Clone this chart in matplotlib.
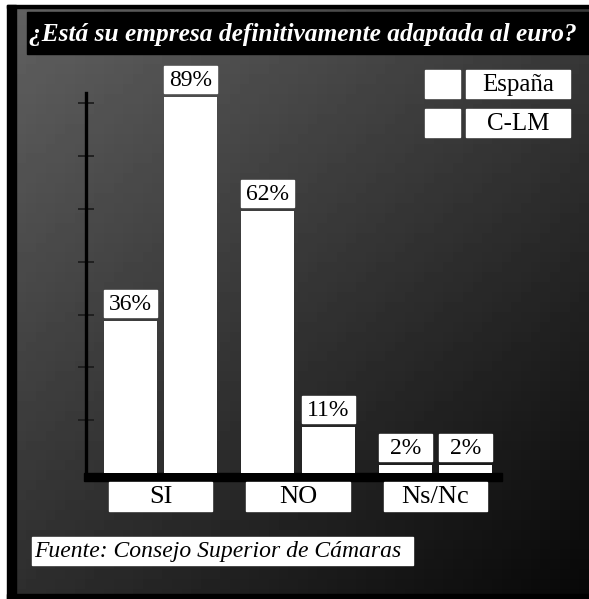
import numpy as np
import matplotlib
matplotlib.use('Agg')
import matplotlib.pyplot as plt
from matplotlib.patches import Rectangle

categorias = ['SI', 'NO', 'Ns/Nc']
series = ['España', 'C-LM']
espana = [36, 62, 2]
clm = [89, 11, 2]
titulo = '¿Está su empresa definitivamente adaptada al euro?'
fuente = 'Fuente: Consejo Superior de Cámaras'

W, H = 589, 599
plt.rcParams['font.family'] = ['Liberation Serif', 'DejaVu Serif']

fig = plt.figure(figsize=(W / 100, H / 100), dpi=100)
fig.patch.set_facecolor('white')

# fondo en pixeles
bg = fig.add_axes([0, 0, 1, 1])
bg.set_xlim(0, W)
bg.set_ylim(H, 0)
bg.axis('off')

xx, yy = np.meshgrid(np.linspace(0, 1, 60), np.linspace(0, 1, 60))
grad = 0.38 - 0.20 * yy - 0.15 * xx
bg.imshow(grad, cmap='gray', vmin=0, vmax=1, extent=[7, W, H, 5], aspect='auto', zorder=0)

# marco negro
bg.add_patch(Rectangle((7, 5), 9, H - 5, color='black', zorder=1))
bg.add_patch(Rectangle((7, 5), W - 7, 3, color='black', zorder=1))
bg.add_patch(Rectangle((7, H - 5), W - 7, 5, color='black', zorder=1))

# barra del titulo
bg.add_patch(Rectangle((27, 12), W - 27, 42, color='black', zorder=2))
bg.text(29, 35, titulo, color='white', fontsize=18.3, fontstyle='italic',
        fontweight='bold', va='center', ha='left', zorder=3)

# leyenda
for i, nombre in enumerate(series):
    y0 = 70 + i * 39
    bg.add_patch(Rectangle((425, y0), 35, 28, color='white', zorder=2))
    bg.add_patch(Rectangle((466, y0), 104, 28, color='white', zorder=2))
    bg.text(518, y0 + 15, nombre, fontsize=18, ha='center', va='center', zorder=3)

# fuente
bg.add_patch(Rectangle((32, 537), 381, 28, color='white', zorder=2))
bg.text(34, 552, fuente, fontsize=17, fontstyle='italic', ha='left', va='center', zorder=3)

# linea base
bg.add_patch(Rectangle((84, 473), 418, 8, color='black', zorder=2))

# grafico de barras
ax = fig.add_axes([86 / W, (H - 473) / H, 414 / W, 422.5 / H])
ax.set_facecolor('none')
ax.set_xlim(-0.5418, 2.469)
ax.set_ylim(0, 100)

x = np.arange(len(categorias))
ancho = 0.385
desp = 0.22
gap = 0.85
alto = 6.4

for off, vals in [(-desp, espana), (desp, clm)]:
    ax.bar(x + off, vals, width=ancho, color='white', zorder=2)
    for xi, v in zip(x + off, vals):
        ax.add_patch(Rectangle((xi - ancho / 2, v + gap), ancho, alto,
                               color='white', clip_on=False, zorder=3))
        ax.text(xi, v + gap + alto / 2 - 0.2, f'{v}%', fontsize=17, ha='center',
                va='center', clip_on=False, zorder=4)

for xi, cat in zip(x, categorias):
    ax.add_patch(Rectangle((xi - 0.375, -9.0), 0.75, 6.9, color='white',
                           clip_on=False, zorder=3))
    ax.text(xi, -5.7, cat, fontsize=19, ha='center', va='center', clip_on=False, zorder=4)

for s in ['top', 'right', 'bottom']:
    ax.spines[s].set_visible(False)
ax.spines['left'].set_linewidth(2.4)
ax.spines['left'].set_color('black')
ax.spines['left'].set_bounds(0, 90)
ax.set_xticks([])
ax.set_yticks([12.5, 25, 37.5, 50, 62.5, 75, 87.5])
ax.set_yticklabels([])
ax.tick_params(axis='y', direction='inout', length=12, width=1.2, color='#1a1a1a')

fig.savefig('out.png', dpi=100, facecolor=fig.get_facecolor())
